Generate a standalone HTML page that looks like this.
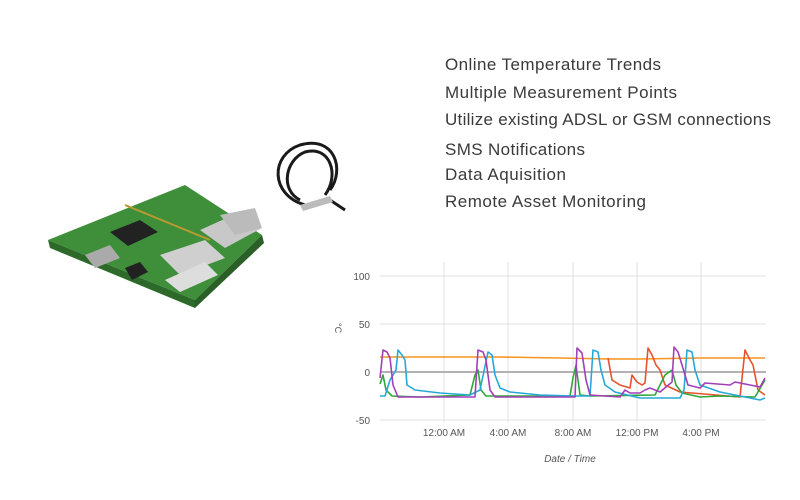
<!DOCTYPE html>
<html><head><meta charset="utf-8"><style>
body{margin:0;width:800px;height:500px;background:#fff;overflow:hidden;font-family:"Liberation Sans",sans-serif}
</style></head><body>
<svg width="800" height="500" xmlns="http://www.w3.org/2000/svg" style="position:absolute;left:0;top:0">
<g font-family="Liberation Sans, sans-serif" font-size="17" fill="#3a3a3a">
<text x="445" y="70" textLength="216">Online Temperature Trends</text>
<text x="445" y="98" textLength="232">Multiple Measurement Points</text>
<text x="445" y="125" textLength="326">Utilize existing ADSL or GSM connections</text>
<text x="445" y="155" textLength="140">SMS Notifications</text>
<text x="445" y="180" textLength="121">Data Aquisition</text>
<text x="445" y="207" textLength="201">Remote Asset Monitoring</text>
</g>
<!-- Raspberry Pi -->
<g>
<polygon points="48,240 185,185 262,235 195,300" fill="#3f8f3a"/>
<polygon points="48,240 50,248 195,308 195,300" fill="#2d6a2a"/>
<polygon points="195,300 262,235 264,243 195,308" fill="#2a5f27"/>
<g stroke="#b89a30" stroke-width="2">
<line x1="125" y1="205" x2="210" y2="240"/></g>
<polygon points="110,232 140,220 158,232 128,246" fill="#222"/>
<polygon points="160,255 205,240 225,258 180,275" fill="#cfcfcf"/>
<polygon points="165,280 205,262 218,275 180,292" fill="#ddd"/>
<polygon points="200,230 240,212 262,228 225,248" fill="#c8c8c8"/>
<polygon points="220,215 255,208 262,228 235,235" fill="#bbb"/>
<polygon points="85,255 110,245 120,258 95,268" fill="#aaa"/>
<polygon points="125,268 140,262 148,272 132,280" fill="#222"/>
</g>
<!-- sensor cable -->
<g fill="none" stroke="#1a1a1a" stroke-width="3">
<path d="M305,205 C270,195 270,155 300,145 C335,135 345,170 330,190"/>
<path d="M300,200 C280,190 285,160 305,152 C330,145 340,175 325,195"/>
<path d="M310,205 L330,200 L345,210"/>
</g>
<polygon points="300,205 330,196 333,202 303,211" fill="#bbb"/>
<!-- chart -->
<g stroke="#e2e2e2" stroke-width="1">
<line x1="380" y1="276" x2="766" y2="276"/>
<line x1="380" y1="324" x2="766" y2="324"/>
<line x1="380" y1="420" x2="766" y2="420"/>
<line x1="444" y1="262" x2="444" y2="422"/>
<line x1="508" y1="262" x2="508" y2="422"/>
<line x1="573" y1="262" x2="573" y2="422"/>
<line x1="637" y1="262" x2="637" y2="422"/>
<line x1="701" y1="262" x2="701" y2="422"/>
</g>
<line x1="380" y1="372" x2="766" y2="372" stroke="#999" stroke-width="1.5"/>
<g font-size="10" fill="#555" font-family="Liberation Sans, sans-serif">
<text x="370" y="280" text-anchor="end">100</text>
<text x="370" y="328" text-anchor="end">50</text>
<text x="370" y="376" text-anchor="end">0</text>
<text x="370" y="424" text-anchor="end">-50</text>
<text x="444" y="436" text-anchor="middle">12:00 AM</text>
<text x="508" y="436" text-anchor="middle">4:00 AM</text>
<text x="573" y="436" text-anchor="middle">8:00 AM</text>
<text x="637" y="436" text-anchor="middle">12:00 PM</text>
<text x="701" y="436" text-anchor="middle">4:00 PM</text>
<text x="570" y="462" text-anchor="middle" font-style="italic">Date / Time</text>
<text x="336" y="328" font-size="9" transform="rotate(90 338 325)">°C</text>
</g>
<g fill="none" stroke-width="1.6" stroke-linejoin="round">
<polyline stroke="#f7941d" points="380,357 500,357 560,358 610,359 640,359 700,358 765,358"/>
<polyline stroke="#e8512f" points="608,358 612,380 620,385 630,388 632,375 637,382 642,385 645,383 648,348 652,355 656,365 660,370 665,385 680,392 740,397 745,350 750,360 753,365 758,390 765,395"/>
<polyline stroke="#2fa83a" points="380,384 383,375 386,390 392,396 420,397 470,395 475,375 478,370 481,390 486,396 570,396 573,378 576,365 580,395 590,396 655,395 665,375 672,370 676,385 682,393 700,397 720,396 755,397 765,380"/>
<polyline stroke="#27a9d8" points="380,396 385,396 390,380 396,370 398,350 402,355 405,360 407,385 415,390 440,393 470,395 480,390 488,352 492,355 495,375 500,388 510,392 540,395 575,396 590,396 593,350 598,352 601,370 605,385 615,392 640,398 680,398 684,390 687,350 692,352 695,370 700,385 720,392 760,400 765,398"/>
<polyline stroke="#a33fb8" points="380,378 383,350 387,352 390,358 393,385 398,397 475,397 478,350 483,352 486,360 490,390 495,397 575,397 577,348 582,353 586,380 590,395 620,397 625,390 630,393 640,393 645,390 650,388 660,392 672,382 674,347 678,352 682,365 688,385 700,388 705,383 730,385 735,382 760,387 765,378"/>
</g>
</svg>
</body></html>
